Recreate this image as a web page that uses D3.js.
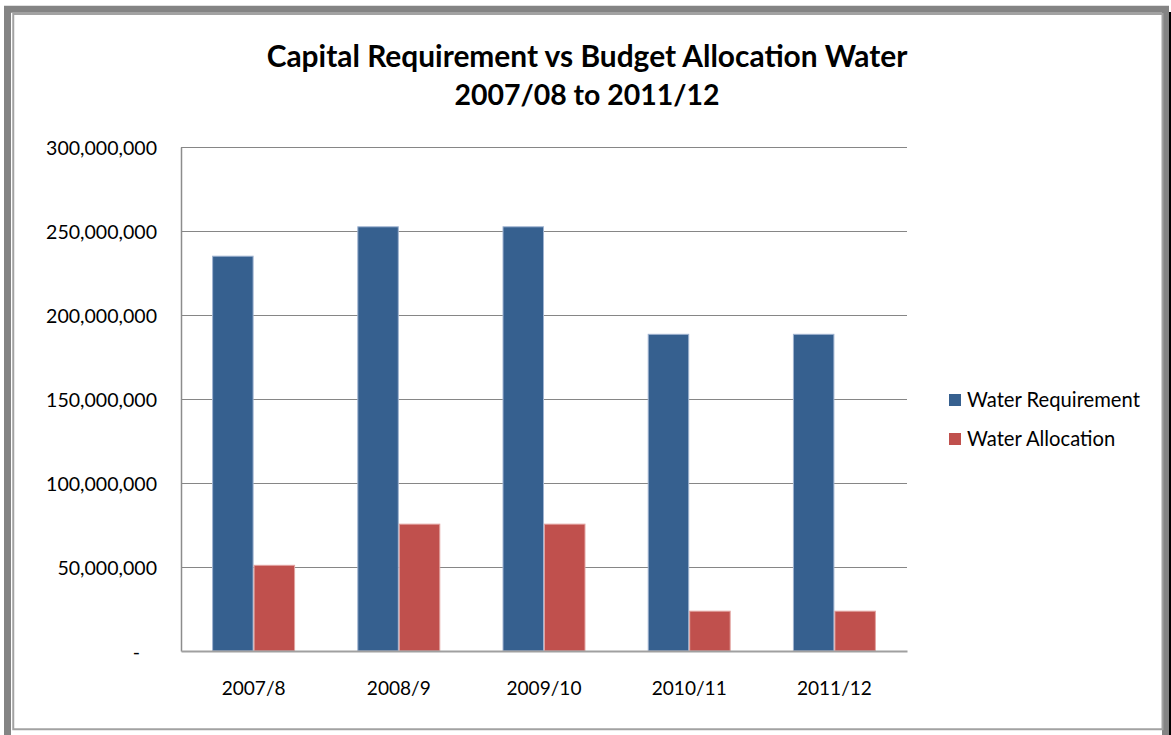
<!DOCTYPE html>
<html>
<head>
<meta charset="utf-8">
<script src="https://cdn.jsdelivr.net/npm/d3@7"></script>
<style>
  html, body { margin: 0; padding: 0; background: #fff; }
  svg { display: block; }
  text { font-family: Lato, "Open Sans", sans-serif; fill: #000; }
</style>
</head>
<body>
<svg id="chart" width="1171" height="735"></svg>
<script>
// Capital requirement vs budget allocation for water, by financial year
const categories = ["2007/8", "2008/9", "2009/10", "2010/11", "2011/12"];
const seriesNames = ["Water Requirement", "Water Allocation"];
const waterRequirement = [235000000, 252500000, 252500000, 188500000, 188500000];
const waterAllocation = [51000000, 75500000, 75500000, 23700000, 23700000];
const yTicks = [0, 50000000, 100000000, 150000000, 200000000, 250000000, 300000000];
const titleLines = ["Capital Requirement vs Budget Allocation Water", "2007/08 to 2011/12"];

const colors = { "Water Requirement": "#36608f", "Water Allocation": "#c0504d" };
const edges = { "Water Requirement": "#9fb3d0", "Water Allocation": "#e2a3a1" };

const svg = d3.select("#chart");
const W = 1171, H = 735;
const plot = { left: 181, right: 907, top: 147, bottom: 651 };

// scale the font size of every node in a selection so that the
// reference node (the first one) spans the given width
function fitWidth(sel, target) {
  const node = sel.node();
  const fs = parseFloat(sel.attr("font-size"));
  const w = node.getComputedTextLength();
  if (w > 0) sel.attr("font-size", (fs * target / w).toFixed(2));
}

// frame
svg.append("rect").attr("x", 0).attr("y", 0).attr("width", W).attr("height", H).attr("fill", "#fff");
svg.append("rect").attr("x", 1169).attr("y", 12).attr("width", 2).attr("height", H - 12).attr("fill", "#000");
svg.append("rect").attr("x", 7.5).attr("y", 9.25).attr("width", 1158).attr("height", 730)
  .attr("fill", "none").attr("stroke", "#848484").attr("stroke-width", 7);
svg.append("rect").attr("x", 13.25).attr("y", 14).attr("width", 1149.25).attr("height", 715.25)
  .attr("fill", "none").attr("stroke", "#a2a2a2").attr("stroke-width", 2);

// scales
const x0 = d3.scaleBand().domain(categories).range([plot.left, plot.right])
  .paddingInner(0.4286).paddingOuter(0.2143);
const x1 = d3.scaleBand().domain(seriesNames).range([0, x0.bandwidth()]).padding(0);
const y = d3.scaleLinear().domain([0, 300000000]).range([plot.bottom, plot.top]);

// gridlines
svg.append("g").selectAll("line").data(yTicks.filter(d => d > 0)).join("line")
  .attr("x1", plot.left).attr("x2", plot.right)
  .attr("y1", d => Math.round(y(d)) + 0.5).attr("y2", d => Math.round(y(d)) + 0.5)
  .attr("stroke", "#868686").attr("stroke-width", 1);

// y axis
const yAxis = svg.append("g").attr("transform", `translate(${plot.left},0)`)
  .call(d3.axisLeft(y).tickValues(yTicks).tickSize(0).tickPadding(24)
    .tickFormat(d => d === 0 ? "-" : d3.format(",")(d)));
yAxis.select(".domain").attr("stroke", "#8c8c8c").attr("stroke-width", 1.5);
const yLabels = yAxis.selectAll(".tick").filter(d => d > 0).select("text");
yAxis.selectAll("text").attr("font-size", 17).attr("font-family", "Lato, sans-serif")
  .attr("fill", "#000").attr("dy", "0.36em");
{
  const top = yAxis.selectAll(".tick").filter(d => d === 300000000).select("text");
  const w = top.node().getComputedTextLength();
  yAxis.selectAll("text").attr("font-size", (17 * 111 / w).toFixed(2));
}
yAxis.selectAll(".tick").filter(d => d === 0).select("text").attr("dx", -17);

// bars
const rows = categories.map((c, i) => ({ c, vals: [
  { s: seriesNames[0], v: waterRequirement[i] },
  { s: seriesNames[1], v: waterAllocation[i] }
]}));
svg.append("g").selectAll("g").data(rows).join("g")
  .attr("transform", d => `translate(${x0(d.c)},0)`)
  .selectAll("rect").data(d => d.vals).join("rect")
  .attr("x", d => x1(d.s) + 0.5).attr("width", x1.bandwidth() - 1)
  .attr("y", d => y(d.v)).attr("height", d => y(0) - y(d.v))
  .attr("fill", d => colors[d.s]).attr("stroke", d => edges[d.s]).attr("stroke-width", 1);

// x axis
const xAxis = svg.append("g").attr("transform", `translate(0,${plot.bottom})`)
  .call(d3.axisBottom(x0).tickSize(0).tickPadding(30));
xAxis.select(".domain").attr("stroke", "#a0a0a0").attr("stroke-width", 2);
xAxis.selectAll("text").attr("font-size", 17).attr("font-family", "Lato, sans-serif").attr("fill", "#000");
{
  const w = xAxis.select(".tick text").node().getComputedTextLength();
  xAxis.selectAll("text").attr("font-size", (17 * 64 / w).toFixed(2));
}

// title
const t1 = svg.append("text").attr("x", 587).attr("y", 67).attr("text-anchor", "middle")
  .attr("font-weight", "bold").attr("font-size", 26).text(titleLines[0]);
fitWidth(t1, 641);
const t2 = svg.append("text").attr("x", 587).attr("y", 105).attr("text-anchor", "middle")
  .attr("font-weight", "bold").attr("font-size", 26).text(titleLines[1]);
fitWidth(t2, 265);

// legend
const legend = svg.append("g").attr("transform", "translate(949,394)");
const items = legend.selectAll("g").data(seriesNames).join("g")
  .attr("transform", (d, i) => `translate(0,${i * 39})`);
items.append("rect").attr("width", 12).attr("height", 12).attr("fill", d => colors[d]);
const legendText = items.append("text").attr("x", 18).attr("y", 12.5).attr("font-size", 18).text(d => d);
{
  const w = legendText.node().getComputedTextLength();
  legendText.attr("font-size", (18 * 173 / w).toFixed(2));
}
</script>
</body>
</html>
